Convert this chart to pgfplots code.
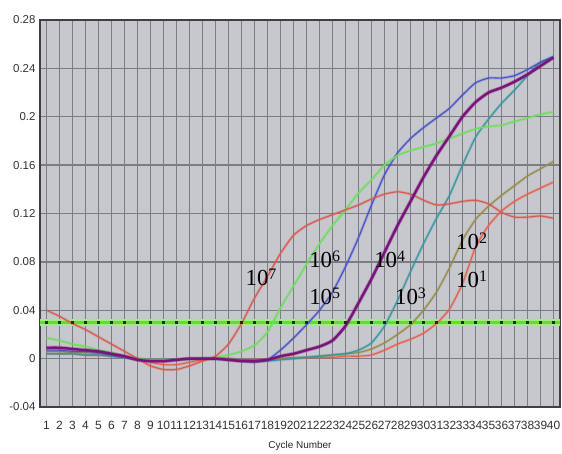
\documentclass[border=0pt]{standalone}
\usepackage{pgfplots}
\pgfplotsset{compat=1.18}
\usepackage{pgfplotstable}
\usepackage{fontspec}
\setmainfont{Liberation Sans}
\newfontfamily\tnr{Liberation Serif}
\definecolor{bgcol}{RGB}{198,200,206}
\definecolor{gridcol}{RGB}{124,124,130}
\definecolor{cA}{RGB}{218,88,78}
\definecolor{cB}{RGB}{110,222,92}
\definecolor{cC}{RGB}{72,82,200}
\definecolor{cD}{RGB}{122,20,122}
\definecolor{cE}{RGB}{52,150,160}
\definecolor{cF}{RGB}{150,140,72}
\definecolor{cG}{RGB}{232,96,74}
\definecolor{thrA}{RGB}{160,236,130}
\definecolor{thrB}{RGB}{96,222,48}
\pgfplotstableread{
c s7 s6 s5 s4 s3 s2 s1
1 0.040 0.017 0.007 0.009 0.004 0.006 0.004
2 0.035 0.015 0.007 0.009 0.004 0.006 0.004
3 0.029 0.012 0.006 0.008 0.004 0.005 0.004
4 0.024 0.010 0.006 0.007 0.003 0.005 0.003
5 0.018 0.007 0.005 0.006 0.003 0.004 0.003
6 0.012 0.005 0.003 0.004 0.002 0.003 0.002
7 0.006 0.002 0.001 0.002 0.001 0.001 0.001
8 0.000 0.000 -0.001 -0.001 0.000 0.000 -0.001
9 -0.006 -0.001 -0.001 -0.002 -0.001 -0.001 -0.003
10 -0.009 -0.001 -0.002 -0.002 -0.001 -0.002 -0.005
11 -0.009 -0.001 -0.001 -0.001 -0.001 -0.001 -0.005
12 -0.006 0.000 0.000 0.000 0.000 0.000 -0.003
13 -0.002 0.000 0.000 0.000 0.000 0.000 -0.001
14 0.002 0.001 0.000 0.000 0.000 0.000 0.000
15 0.012 0.003 -0.001 -0.001 -0.001 0.000 0.000
16 0.029 0.006 -0.002 -0.002 -0.001 -0.001 -0.001
17 0.050 0.011 -0.003 -0.002 -0.002 -0.001 -0.001
18 0.068 0.022 -0.001 -0.001 -0.002 -0.001 -0.001
19 0.087 0.042 0.007 0.002 -0.001 0.000 0.000
20 0.102 0.060 0.017 0.004 0.000 0.001 0.000
21 0.110 0.078 0.028 0.007 0.001 0.001 0.001
22 0.115 0.095 0.040 0.010 0.002 0.002 0.001
23 0.119 0.110 0.055 0.015 0.003 0.003 0.001
24 0.123 0.123 0.076 0.027 0.004 0.004 0.002
25 0.127 0.137 0.100 0.046 0.007 0.005 0.002
26 0.132 0.148 0.127 0.066 0.013 0.008 0.003
27 0.136 0.160 0.152 0.088 0.027 0.013 0.007
28 0.138 0.168 0.170 0.110 0.048 0.020 0.012
29 0.136 0.172 0.182 0.130 0.072 0.028 0.016
30 0.131 0.175 0.191 0.150 0.095 0.040 0.021
31 0.127 0.178 0.199 0.168 0.116 0.055 0.029
32 0.128 0.182 0.207 0.184 0.135 0.075 0.041
33 0.130 0.186 0.218 0.200 0.160 0.098 0.062
34 0.131 0.190 0.228 0.212 0.183 0.115 0.092
35 0.128 0.192 0.232 0.220 0.198 0.126 0.110
36 0.121 0.193 0.232 0.224 0.211 0.135 0.122
37 0.117 0.196 0.234 0.229 0.222 0.143 0.130
38 0.117 0.199 0.239 0.235 0.234 0.151 0.136
39 0.118 0.202 0.245 0.242 0.245 0.157 0.141
40 0.116 0.204 0.249 0.249 0.250 0.163 0.146
}\qpcr
\newcommand{\lbl}[1]{{\tnr\fontsize{23}{24}\selectfont 10\raisebox{0.6ex}{\fontsize{16}{16}\selectfont #1}}}
\begin{document}
\begin{tikzpicture}
\begin{axis}[
  name=ax,
  scale only axis,
  width=520bp, height=387bp,
  xmin=0.5, xmax=40.5,
  ymin=-0.04, ymax=0.28,
  axis background/.style={fill=bgcol},
  axis line style={draw=black!75, line width=1.6bp},
  xtick={1,...,40},
  ytick={-0.04,0,0.04,0.08,0.12,0.16,0.2,0.24,0.28},
  yticklabels={-0.04,0,0.04,0.08,0.12,0.16,0.2,0.24,0.28},
  major tick length=0pt,
  grid=major,
  major grid style={draw=gridcol, line width=1.3bp},
  tick label style={text=black!80},
  x tick label style={font=\fontsize{12}{13}\selectfont, yshift=-11bp, inner xsep=0pt},
  y tick label style={font=\fontsize{11.5}{12}\selectfont, xshift=-1bp},
  /pgf/number format/assume math mode=true,
  xlabel={Cycle Number},
  xlabel style={font=\fontsize{10}{11}\selectfont, yshift=-4.5bp, text=black!85},
  every axis plot/.append style={smooth, tension=0.35},
]
\addplot[thrA, line width=7bp, sharp plot] coordinates {(0.5,0.03) (40.5,0.03)};
\addplot[thrB, line width=3bp, sharp plot] coordinates {(0.5,0.03) (40.5,0.03)};
\addplot[only marks, mark=square*, mark size=1.1bp, black!85] coordinates {
(1,0.03)(2,0.03)(3,0.03)(4,0.03)(5,0.03)(6,0.03)(7,0.03)(8,0.03)(9,0.03)(10,0.03)
(11,0.03)(12,0.03)(13,0.03)(14,0.03)(15,0.03)(16,0.03)(17,0.03)(18,0.03)(19,0.03)(20,0.03)
(21,0.03)(22,0.03)(23,0.03)(24,0.03)(25,0.03)(26,0.03)(27,0.03)(28,0.03)(29,0.03)(30,0.03)
(31,0.03)(32,0.03)(33,0.03)(34,0.03)(35,0.03)(36,0.03)(37,0.03)(38,0.03)(39,0.03)(40,0.03)};
\addplot[cG, line width=1.1bp, preaction={draw, opacity=0.3, line width=2.8bp}] table[x=c, y=s1] {\qpcr};
\addplot[cF, line width=1.1bp, preaction={draw, opacity=0.3, line width=2.8bp}] table[x=c, y=s2] {\qpcr};
\addplot[cE, line width=1.1bp, preaction={draw, opacity=0.3, line width=2.8bp}] table[x=c, y=s3] {\qpcr};
\addplot[cC, line width=1.1bp, preaction={draw, opacity=0.3, line width=2.8bp}] table[x=c, y=s5] {\qpcr};
\addplot[cB, line width=1.3bp, preaction={draw, opacity=0.3, line width=3bp}] table[x=c, y=s6] {\qpcr};
\addplot[cA, line width=1.1bp, preaction={draw, opacity=0.3, line width=2.8bp}] table[x=c, y=s7] {\qpcr};
\addplot[cD, line width=2.4bp, preaction={draw, opacity=0.3, line width=4bp}] table[x=c, y=s4] {\qpcr};
\node at (axis cs:17.5,0.067) {\lbl{7}};
\node at (axis cs:22.4,0.082) {\lbl{6}};
\node at (axis cs:22.4,0.0515) {\lbl{5}};
\node at (axis cs:27.4,0.082) {\lbl{4}};
\node at (axis cs:29.0,0.0515) {\lbl{3}};
\node at (axis cs:33.7,0.097) {\lbl{2}};
\node at (axis cs:33.7,0.0657) {\lbl{1}};
\end{axis}
\pgfresetboundingbox
\path ([xshift=-40bp,yshift=-47bp]ax.south west) rectangle ([xshift=2bp,yshift=20bp]ax.north east);
\end{tikzpicture}
\end{document}
